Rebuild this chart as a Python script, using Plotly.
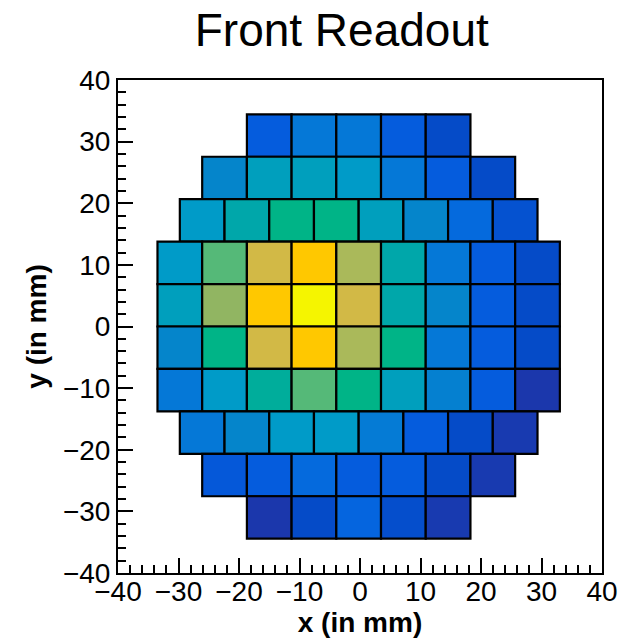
import plotly.graph_objects as go

# ---- data: cell values per row (top row first), normalised signal ----
row_1 = [15, 25, 25, 15, 10]
row_2 = [30, 40, 40, 37, 25, 15, 10]
row_3 = [37, 45, 52, 52, 40, 30, 20, 12]
row_4 = [37, 60, 78, 88, 72, 45, 25, 15, 10]
row_5 = [40, 67, 88, 100, 78, 45, 30, 15, 10]
row_6 = [30, 52, 78, 88, 72, 52, 25, 15, 10]
row_7 = [25, 37, 48, 60, 52, 40, 28, 15, 2]
row_8 = [25, 30, 37, 37, 26, 15, 10, 3]
row_9 = [14, 15, 20, 15, 15, 10, 3]
row_10 = [2, 10, 18, 11, 3]
rows = [row_1, row_2, row_3, row_4, row_5, row_6, row_7, row_8, row_9, row_10]

title_text = "Front Readout"
x_title = "x (in mm)"
y_title = "y (in mm)"

# ---- geometry of the readout grid (mm) ----
PITCH_X = 7.39
PITCH_Y = 6.886
X_CENTER = -0.22

colorscale = [
    [0.00, "#2032a5"],
    [0.10, "#054bc8"],
    [0.16, "#055fe1"],
    [0.25, "#0578d7"],
    [0.31, "#0587c8"],
    [0.37, "#009bc8"],
    [0.44, "#00a5af"],
    [0.52, "#00b487"],
    [0.60, "#55b978"],
    [0.66, "#8cb464"],
    [0.72, "#aab95a"],
    [0.78, "#d2b946"],
    [0.88, "#ffc800"],
    [1.00, "#f5f500"],
]

xs, bases, heights, widths, vals = [], [], [], [], []
n_rows = len(rows)
top = n_rows * PITCH_Y / 2
for r, row in enumerate(rows):
    n = len(row)
    bottom = top - (r + 1) * PITCH_Y
    for i, v in enumerate(row):
        xs.append(X_CENTER + (i - (n - 1) / 2) * PITCH_X)
        bases.append(bottom)
        heights.append(PITCH_Y)
        widths.append(PITCH_X)
        vals.append(v)

fig = go.Figure(go.Bar(
    x=xs, y=heights, base=bases, width=widths,
    marker=dict(color=vals, colorscale=colorscale, cmin=0, cmax=100,
                showscale=False, line=dict(color="black", width=2.2)),
    hovertemplate="x=%{x:.1f}<br>value=%{marker.color}<extra></extra>",
))

font_family = "Liberation Sans, Arial, Helvetica, sans-serif"
axis_common = dict(
    range=[-40, 40], dtick=10, tick0=0, automargin=False,
    ticks="inside", ticklen=15, tickwidth=1.5, tickcolor="black",
    minor=dict(dtick=2, ticks="inside", ticklen=8, tickwidth=1.5, tickcolor="black"),
    showline=True, linecolor="black", linewidth=2, mirror=True,
    showgrid=False, zeroline=False,
    tickfont=dict(family=font_family, size=28, color="black"),
    fixedrange=True,
)

fig.update_layout(
    width=618, height=641,
    margin=dict(l=118, r=16, t=80, b=68),
    paper_bgcolor="white", plot_bgcolor="white",
    barmode="overlay", showlegend=False,
    title=dict(text=title_text, x=0.553, xref="container", xanchor="center",
               y=1 - 30 / 641, yref="container", yanchor="middle",
               font=dict(family=font_family, size=46, color="black")),
    xaxis=dict(**axis_common, ticklabelstandoff=-8,
               title=dict(text=x_title, standoff=4,
                          font=dict(family=font_family, size=28, color="black", weight="bold"))),
    yaxis=dict(**axis_common,
               title=dict(text=y_title, standoff=8,
                          font=dict(family=font_family, size=28, color="black", weight="bold"))),
)

fig.write_html("out.html")
